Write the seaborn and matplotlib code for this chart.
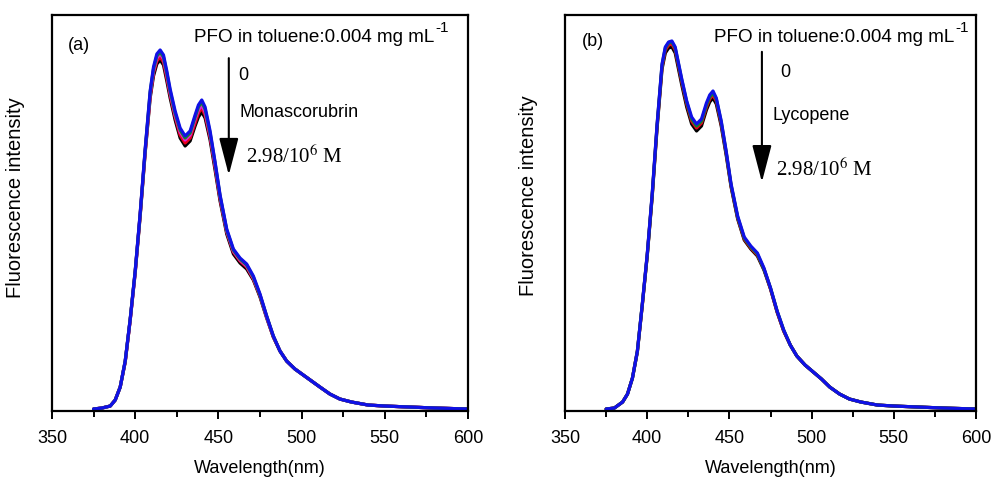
import matplotlib
matplotlib.use("Agg")
import matplotlib.pyplot as plt
import seaborn as sns
import pandas as pd
from matplotlib.ticker import MultipleLocator

# wavelength grid (nm)
wavelength = [375, 380, 385, 388, 391, 394, 397, 400, 403, 406, 409, 411, 413, 415, 417, 419, 421,
              424, 427, 430, 433, 436, 438, 440, 442, 445, 448, 451, 455, 459, 463, 467, 471, 475,
              479, 483, 487, 491, 496, 501, 506, 511, 517, 523, 530, 540, 550, 565, 580, 600]

# (a) PFO + Monascorubrin, intensity (a.u.)
a_black = [0, 1, 3, 9, 22, 47, 89, 136, 193, 256, 311, 333, 345, 349, 344, 328, 311, 289, 271, 263, 268,
           283, 292, 297, 291, 269, 239, 208, 175, 155, 146, 140, 129, 112, 91, 72,
           58, 48, 40, 34, 28, 22, 15, 10, 7, 4, 3, 2, 1, 0]
a_red = [0, 1, 3, 9, 22, 47, 89, 137, 194, 257, 313, 336, 348, 352, 347, 331, 314, 292, 274, 266, 271,
         286, 296, 301, 294, 272, 242, 210, 177, 157, 148, 142, 130, 113, 92, 72,
         58, 48, 40, 34, 28, 22, 15, 10, 7, 4, 3, 2, 1, 0]
a_magenta = [0, 1, 3, 9, 22, 48, 89, 137, 195, 258, 315, 338, 351, 355, 350, 334, 316, 294, 277, 269, 274,
             290, 299, 304, 297, 274, 244, 212, 178, 158, 149, 143, 131, 114, 92, 73,
             58, 48, 40, 34, 28, 22, 15, 10, 7, 4, 3, 2, 1, 0]
a_green = [0, 1, 3, 9, 22, 48, 90, 138, 195, 259, 317, 340, 353, 357, 352, 336, 318, 296, 279, 271, 276,
           292, 302, 307, 300, 276, 246, 213, 179, 159, 150, 144, 132, 114, 93, 73,
           58, 48, 40, 34, 28, 22, 15, 10, 7, 4, 3, 2, 1, 0]
a_blue = [0, 1, 3, 9, 22, 48, 90, 138, 196, 260, 318, 342, 355, 359, 354, 338, 320, 298, 281, 273, 278,
          294, 304, 309, 302, 278, 247, 214, 180, 160, 151, 145, 133, 115, 93, 73,
          58, 48, 40, 34, 28, 22, 15, 10, 7, 4, 3, 2, 1, 0]

# (b) PFO + Lycopene, intensity (a.u.)
b_black = [0, 1, 7, 15, 31, 57, 104, 153, 212, 281, 340, 356, 361, 362, 356, 340, 324, 302, 285, 278, 283,
           299, 307, 311, 305, 283, 254, 222, 190, 169, 160, 153, 139, 120, 97, 78,
           64, 53, 44, 37, 30, 22, 15, 10, 7, 4, 3, 2, 1, 0]
b_red = [0, 1, 7, 15, 31, 58, 104, 154, 213, 283, 342, 359, 364, 365, 359, 343, 327, 305, 288, 281, 286,
         302, 310, 314, 308, 285, 256, 223, 191, 170, 161, 154, 140, 120, 97, 78,
         64, 53, 44, 37, 30, 22, 15, 10, 7, 4, 3, 2, 1, 0]
b_green = [0, 1, 7, 15, 31, 58, 105, 154, 214, 284, 344, 361, 366, 367, 361, 345, 329, 307, 290, 283, 288,
           304, 312, 316, 310, 287, 257, 224, 192, 171, 162, 155, 140, 121, 98, 79,
           64, 53, 44, 37, 30, 22, 15, 10, 7, 4, 3, 2, 1, 0]
b_blue = [0, 1, 7, 15, 31, 58, 105, 155, 215, 285, 345, 362, 367, 368, 362, 346, 330, 308, 292, 285, 290,
          306, 314, 318, 311, 288, 258, 225, 193, 172, 163, 156, 141, 121, 98, 79,
          64, 53, 44, 37, 30, 22, 15, 10, 7, 4, 3, 2, 1, 0]

series_a = {"black": a_black, "red": a_red, "magenta": a_magenta, "green": a_green, "blue": a_blue}
series_b = {"black": b_black, "red": b_red, "green": b_green, "blue": b_blue}
palette = {"black": "#000000", "red": "#e8001c", "magenta": "#e020e0", "green": "#0a8a2a", "blue": "#1010e6"}


def to_long(series):
    rows = []
    for name, vals in series.items():
        for w, v in zip(wavelength, vals):
            rows.append({"Wavelength": w, "Intensity": v, "series": name})
    return pd.DataFrame(rows)


sns.set_style("ticks")
plt.rcParams["font.family"] = ["Liberation Sans", "DejaVu Sans"]
plt.rcParams["text.color"] = "black"
plt.rcParams["axes.labelcolor"] = "black"
plt.rcParams["xtick.color"] = "black"

fig = plt.figure(figsize=(9.92, 4.83), dpi=100)
ax_a = fig.add_axes([0.0524, 0.149, 0.4194, 0.820])
ax_b = fig.add_axes([0.5696, 0.149, 0.4143, 0.820])

panels = [
    (ax_a, series_a, "(a)", "Monascorubrin",
     dict(lab=(0.038, 0.924), pfo=(0.341, 0.942), arr_x=0.425, arr=(0.891, 0.596),
          zero=(0.447, 0.848), name=(0.450, 0.753), conc=(0.466, 0.641), ylab=(-0.064, 0.54))),
    (ax_b, series_b, "(b)", "Lycopene",
     dict(lab=(0.041, 0.932), pfo=(0.363, 0.942), arr_x=0.479, arr=(0.907, 0.578),
          zero=(0.523, 0.854), name=(0.504, 0.745), conc=(0.513, 0.609), ylab=(-0.066, 0.545))),
]

for ax, series, tag, quencher, pos in panels:
    df = to_long(series)
    sns.lineplot(data=df, x="Wavelength", y="Intensity", hue="series", palette=palette,
                 hue_order=list(series.keys()), sort=False, legend=False, linewidth=2.3, ax=ax)
    ax.set_xlim(350, 600)
    ax.set_ylim(-2, 394)
    ax.set_yticks([])
    ax.xaxis.set_major_locator(MultipleLocator(50))
    ax.xaxis.set_minor_locator(MultipleLocator(25))
    ax.tick_params(axis="x", which="major", direction="out", length=6, width=1.4, labelsize=13, pad=8,
                   colors="black")
    ax.tick_params(axis="x", which="minor", direction="out", length=4, width=1.4, colors="black")
    for sp in ax.spines.values():
        sp.set_linewidth(1.6)
        sp.set_color("black")
    ax.set_xlabel("Wavelength(nm)", fontsize=13, labelpad=9)
    ax.set_ylabel("Fluorescence intensity", fontsize=14.5)
    ax.yaxis.set_label_coords(*pos["ylab"])

    ax.text(*pos["lab"], tag, transform=ax.transAxes, fontsize=13, va="center", ha="left")
    pfo = ax.text(*pos["pfo"], "PFO in toluene:0.004 mg mL", transform=ax.transAxes,
                  fontsize=13.6, va="center", ha="left")
    ax.annotate("-1", xy=(1.0, 1.0), xycoords=pfo, xytext=(1, 1), textcoords="offset points",
                fontsize=11, va="center", ha="left")
    ax.annotate("", xy=(pos["arr_x"], pos["arr"][1]), xytext=(pos["arr_x"], pos["arr"][0]),
                xycoords="axes fraction", textcoords="axes fraction",
                arrowprops=dict(arrowstyle="-|>,head_length=1.15,head_width=0.3",
                                mutation_scale=20, color="black", lw=1.5, shrinkA=0, shrinkB=0))
    ax.text(*pos["zero"], "0", transform=ax.transAxes, fontsize=13, va="center", ha="left")
    ax.text(*pos["name"], quencher, transform=ax.transAxes, fontsize=13, va="center", ha="left")
    ax.text(*pos["conc"], "2.98/10$^{6}$ M", transform=ax.transAxes, fontsize=15,
            va="center", ha="left", family=["Liberation Serif", "DejaVu Serif"],
            math_fontfamily="stix")

fig.savefig("out.png", dpi=100)
